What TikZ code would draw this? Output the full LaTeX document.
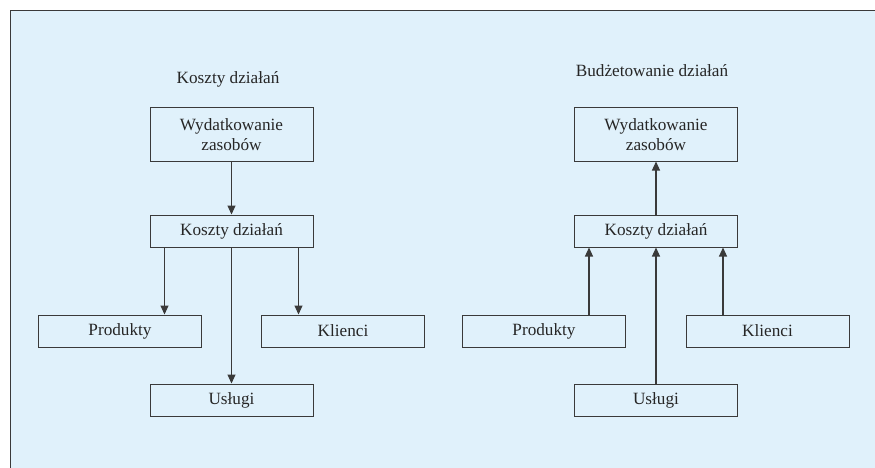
\documentclass[tikz,border=0pt]{standalone}
\usepackage{fontspec}
\setmainfont{Liberation Serif}
\usetikzlibrary{arrows.meta}
\definecolor{bgblue}{HTML}{E0F1FB}
\definecolor{linegray}{HTML}{3A3A3A}
\begin{document}
\begin{tikzpicture}[x=1pt,y=-1pt,
  box/.style={draw=linegray,line width=1pt,fill=bgblue,rectangle,inner sep=0pt,
    minimum width=163pt,align=center,font=\fontsize{17.2}{20}\selectfont,text=black!85},
  onebox/.style={box,minimum height=32pt},
  twobox/.style={box,minimum height=53pt},
  ttl/.style={font=\fontsize{17.2}{20}\selectfont,text=black!85},
  arr/.style={draw=linegray,line width=1.1pt,-{Triangle[length=9pt,width=8pt]}}]
\useasboundingbox (0,0) rectangle (875,468);
\fill[bgblue] (10,11) rectangle (875,468);
\draw[linegray,line width=1pt] (10,468) -- (10,11) -- (875,11);
% left
\node[ttl] (lt) at (228,79) {Koszty działań};
\node[twobox] (lw) at (231.5,134.5) {Wydatkowanie\\zasobów};
\node[onebox] (lk) at (231.5,231) {Koszty działań};
\node[onebox] (lp) at (120,331) {Produkty};
\node[onebox] (lc) at (343,331) {Klienci};
\node[onebox] (lu) at (231.5,400) {Usługi};
\draw[arr] (lw.south) -- (lk.north);
\draw[arr] ([xshift=-67pt]lk.south) -- ([xshift=-67pt]lk.south |- lp.north);
\draw[arr] ([xshift=67pt]lk.south) -- ([xshift=67pt]lk.south |- lc.north);
\draw[arr] (lk.south) -- (lu.north);
% right
\node[ttl] (rt) at (652,71) {Budżetowanie działań};
\node[twobox] (rw) at (656,134.5) {Wydatkowanie\\zasobów};
\node[onebox] (rk) at (656,231) {Koszty działań};
\node[onebox] (rp) at (544,331) {Produkty};
\node[onebox] (rc) at (767.5,331) {Klienci};
\node[onebox] (ru) at (656,400) {Usługi};
\draw[arr] (rk.north) -- (rw.south);
\draw[arr] ([xshift=-67pt]rk.south |- rp.north) -- ([xshift=-67pt]rk.south);
\draw[arr] ([xshift=67pt]rk.south |- rc.north) -- ([xshift=67pt]rk.south);
\draw[arr] (ru.north) -- (rk.south);
\end{tikzpicture}
\end{document}
